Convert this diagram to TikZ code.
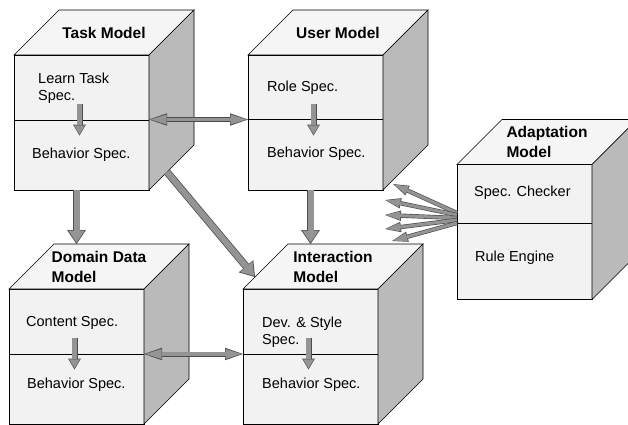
\documentclass[tikz,border=0pt]{standalone}
\usepackage{fontspec}
\setmainfont{Liberation Sans}
\usetikzlibrary{positioning,arrows.meta}

\begin{document}
\begin{tikzpicture}[x=1pt, y=1pt,
    node distance=99pt,
    face/.style={%
      rectangle, draw=black, fill=black!5, line width=0.6pt,
      minimum width=135pt, minimum height=135pt, inner sep=0pt, outer sep=0pt
    },
    txt/.style={%
      anchor=west, inner sep=0pt, align=left,
      font=\fontsize{14.5}{17}\selectfont
    },
    ttl/.style={%
      inner sep=0pt, align=left,
      font=\fontsize{15.5}{20}\selectfont\bfseries
    },
    barrow/.style={%
      draw=black!42, line width=6pt, shorten >=1.5pt,
      -{Triangle[length=12pt,width=16.5pt,line width'=0pt]},
      preaction={draw=black!70, line width=7.5pt, shorten >=0pt,
        -{Triangle[length=14pt,width=19pt,line width'=0pt]}}
    },
    darrow/.style={%
      draw=black!42, line width=3.6pt, shorten >=1.5pt, shorten <=1.5pt,
      {Triangle[length=16pt,width=10pt,line width'=0pt]}-{Triangle[length=16pt,width=10pt,line width'=0pt]},
      preaction={draw=black!70, line width=5pt, shorten >=0pt, shorten <=0pt,
        {Triangle[length=18pt,width=12.5pt,line width'=0pt]}-{Triangle[length=18pt,width=12.5pt,line width'=0pt]}}
    },
    farrow/.style={%
      draw=black!42, line width=3pt, shorten >=1.2pt,
      -{Triangle[length=14pt,width=8.5pt,line width'=0pt]},
      preaction={draw=black!70, line width=4.3pt, shorten >=0pt,
        -{Triangle[length=16pt,width=10.5pt,line width'=0pt]}}
    },
    iarrow/.style={%
      draw=black!42, line width=4.6pt, shorten >=1.2pt,
      -{Triangle[length=9pt,width=10.8pt,line width'=0pt]},
      preaction={draw=black!70, line width=6pt, shorten >=0pt,
        -{Triangle[length=11pt,width=13pt,line width'=0pt]}}
    }
]
    \useasboundingbox (0,0) rectangle (628,424);
    \clip (0,0) rectangle (628,424);

    % front faces of the five models
    \node[face] (task) at (81.5,301.5) {};
    \node[face] (user)   [right = of task]  {};
    \node[face] (domain) [below = of task, xshift=-5pt]  {};
    \node[face] (inter)  [right = of domain]  {};
    \node[face] (adapt)  [right = 79pt of inter, yshift=124.5pt]  {};

    % top and side faces, divider
    \foreach \n/\d in {task/2.5, user/3.5, adapt/9, domain/2.5, inter/2.5} {
      \draw[line width=0.6pt, fill=black!4] (\n.north west) -- ++(45,45) -- ++(135,0) -- (\n.north east) -- cycle;
      \draw[line width=0.6pt, fill=black!27] (\n.north east) -- ++(45,45) -- ++(0,-135) -- (\n.south east) -- cycle;
      \draw[line width=0.6pt] ([yshift=\d]\n.west) -- ([yshift=\d]\n.east);
      \coordinate (\n-back) at ([shift={(45,45)}]\n.north west);
    }

    % titles on the top faces
    \foreach \n/\t in {task/Task Model, user/User Model, adapt/Adaptation\\Model,
                       domain/Domain Data\\Model, inter/Interaction\\Model}
      \node[ttl] (\n-title) at ([shift={(22.5,22.5)}]\n.north) {\t};

    \node[txt] (task-a)   at ([shift={(24,-33)}]task.north west)   {Learn Task\\Spec.};
    \node[txt] (task-b)   at ([shift={(18,-100)}]task.north west)  {Behavior Spec.};
    \node[txt] (user-a)   at ([shift={(19,-33)}]user.north west)   {Role Spec.};
    \node[txt] (user-b)   at ([shift={(19,-99)}]user.north west)   {Behavior Spec.};
    \node[txt] (adapt-a)  at ([shift={(17,-28)}]adapt.north west)  {Spec. Checker};
    \node[txt] (adapt-b)  at ([shift={(18,-93)}]adapt.north west)  {Rule Engine};
    \node[txt] (domain-a) at ([shift={(17,-34)}]domain.north west) {Content Spec.};
    \node[txt] (domain-b) at ([shift={(18,-96)}]domain.north west) {Behavior Spec.};
    \node[txt] (inter-a)  at ([shift={(19,-43)}]inter.north west)  {Dev. \& Style\\Spec.};
    \node[txt] (inter-b)  at ([shift={(19,-96)}]inter.north west)  {Behavior Spec.};

    % arrows inside the models
    \foreach \n in {task,user,domain,inter}
      \draw[iarrow] ([shift={(-2,19)}]\n.center) -- ([shift={(-2,-13)}]\n.center);

    % arrows between the models
    \draw[barrow] (domain.north |- task.south) -- (domain.north |- domain-back);
    \draw[barrow] (inter.north |- user.south) -- (inter.north |- inter-back);
    \draw[barrow] ([shift={(18,18)}]task.south east) -- ([shift={(12,12)}]inter.north west);
    \draw[darrow] ([yshift=3]task.east) -- ([yshift=3]user.west);
    \draw[darrow] ([yshift=2.5]domain.east) -- ([yshift=2.5]inter.west);

    % fan out of the adaptation model
    \foreach \i/\s/\dx/\dy in {1/19/-64/48, 2/17/-72/32, 3/14/-72/17, 4/12/-72/3, 5/9/-65/-9} {
      \coordinate (f\i) at ([shift={(\dx,\dy)}]adapt.west);
      \draw[farrow] ([yshift=\s]adapt.west) -- (f\i);
    }
\end{tikzpicture}
\end{document}
